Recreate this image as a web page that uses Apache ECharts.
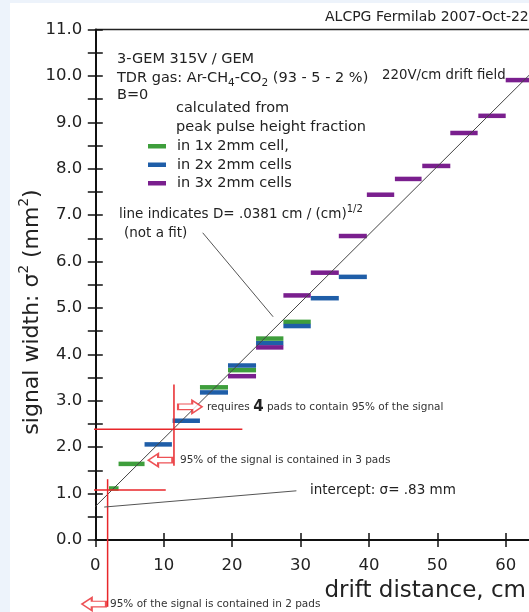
<!DOCTYPE html>
<html><head><meta charset="utf-8">
<script src="https://cdn.jsdelivr.net/npm/echarts@6/dist/echarts.min.js"></script>
<style>html,body{margin:0;padding:0;background:#fff}#c{width:529px;height:612px}</style>
</head><body><div id="c"></div>
<script>
// ---- data ----
const oneCellStart  = [2.0, 3.4, 15.3, 19.4, 23.5, 27.5];
const oneCellEnd    = [3.4, 7.2, 19.4, 23.5, 27.5, 31.5];
const oneCellSigma2 = [1.11, 1.64, 3.29, 3.66, 4.34, 4.70];

const twoCellStart  = [7.2, 11.3, 15.3, 19.4, 23.5, 27.5, 31.5, 35.6];
const twoCellEnd    = [11.2, 15.3, 19.4, 23.5, 27.5, 31.5, 35.6, 39.7];
const twoCellSigma2 = [2.06, 2.57, 3.18, 3.76, 4.24, 4.61, 5.21, 5.67];

const threeCellStart  = [19.4, 23.5, 27.5, 31.5, 35.6, 39.7, 43.8, 47.8, 51.9, 56.0, 60.0];
const threeCellEnd    = [23.5, 27.5, 31.5, 35.6, 39.7, 43.7, 47.7, 51.9, 55.9, 60.0, 64.0];
const threeCellSigma2 = [3.53, 4.15, 5.27, 5.76, 6.55, 7.44, 7.78, 8.06, 8.77, 9.14, 9.91];

const diffusionLineX = [0, 64];
const diffusionLineY = [0.72, 10.1];

// annotation guide lines (data coords)
const redLineX = [[1.8, 1.8], [-1.3, 10.3], [11.5, 11.5], [-1.4, 21.5]];
const redLineY = [[-1.44, 1.31], [1.08, 1.08], [1.6, 3.35], [2.385, 2.385]];
const leaderX = [[15.7, 26.0], [1.3, 29.4]];
const leaderY = [[6.62, 4.81], [0.71, 1.06]];
const arrowX = [13.85, 9.5, -0.2];
const arrowY = [2.87, 1.72, -1.38];
const arrowDir = ['right', 'left', 'left'];

const xTickValues = [0, 10, 20, 30, 40, 50, 60];
const yTickLabels = ['0.0','1.0','2.0','3.0','4.0','5.0','6.0','7.0','8.0','9.0','10.0','11.0'];

const seriesNames = ['in 1x 2mm cell,', 'in 2x 2mm cells', 'in 3x 2mm cells'];
const seriesColors = ['#3e9e3c', '#1f5ea8', '#7a1f8e'];

// ---- chart ----
const F = 'DejaVu Sans';
const RED = '#e8262a';
const chart = echarts.init(document.getElementById('c'));

function segSeries(name, color, xs, xe, ys) {
  return {
    type: 'custom', name: name, itemStyle: { color: color },
    xAxisIndex: 0, yAxisIndex: 0,
    data: xs.map((x, i) => [x, xe[i], ys[i]]),
    encode: { x: [0, 1], y: 2 },
    renderItem: function (params, api) {
      const p0 = api.coord([api.value(0), api.value(2)]);
      const p1 = api.coord([api.value(1), api.value(2)]);
      return { type: 'line', shape: { x1: p0[0], y1: p0[1], x2: p1[0], y2: p1[1] },
               style: { stroke: color, lineWidth: 4.5 } };
    }
  };
}
function lineSeries(xs, ys, color, width) {
  return {
    type: 'line', xAxisIndex: 0, yAxisIndex: 0, clip: false, silent: true,
    symbol: 'none', data: xs.map((x, i) => [x, ys[i]]),
    lineStyle: { color: color, width: width }, z: 5
  };
}

const yLabelSet = new Set(yTickLabels);
const xLabelSet = new Set(xTickValues);

const series = [
  segSeries(seriesNames[0], seriesColors[0], oneCellStart, oneCellEnd, oneCellSigma2),
  segSeries(seriesNames[1], seriesColors[1], twoCellStart, twoCellEnd, twoCellSigma2),
  segSeries(seriesNames[2], seriesColors[2], threeCellStart, threeCellEnd, threeCellSigma2),
  lineSeries(diffusionLineX, diffusionLineY, '#444', 1)
];
redLineX.forEach((xs, i) => series.push(lineSeries(xs, redLineY[i], RED, 1.5)));
leaderX.forEach((xs, i) => series.push(lineSeries(xs, leaderY[i], '#555', 1)));
series.push({
  type: 'scatter', xAxisIndex: 0, yAxisIndex: 0, clip: false, silent: true, z: 6,
  symbol: 'path://M0,4 L13,4 L13,0 L22,7 L13,14 L13,10 L0,10 Z',
  symbolSize: [24, 13],
  itemStyle: { color: '#fff', borderColor: RED, borderWidth: 1.6 },
  data: arrowX.map((x, i) => ({ value: [x, arrowY[i]], symbolRotate: arrowDir[i] === 'left' ? 180 : 0 }))
});

const axisCommonX = { type: 'value', min: 0, max: 70, interval: 10, splitLine: { show: false } };
const axisCommonY = { type: 'value', min: 0, max: 11, interval: 0.5, splitLine: { show: false } };

function txt(text, x, y, size, extra) {
  return Object.assign({ type: 'text', x: x, y: y, z: 100,
    style: Object.assign({ text: text, fontSize: size, fontFamily: F, fill: '#222',
      textVerticalAlign: 'middle' }, extra || {}) });
}

chart.setOption({
  backgroundColor: '#fff',
  animation: false,
  grid: { left: 95.3, top: 29.5, width: 478.8, height: 510.5, outerBoundsMode: 'none', containLabel: false },
  legend: {
    show: true, left: 148, top: 137, orient: 'vertical', padding: 0, itemGap: 0,
    itemWidth: 18, itemHeight: 4.5, icon: 'rect', selectedMode: false,
    data: seriesNames,
    textStyle: { fontFamily: F, fontSize: 14.5, color: '#222', lineHeight: 18.5, padding: [0, 0, 0, 6] }
  },
  xAxis: [
    Object.assign({}, axisCommonX, { position: 'bottom',
      axisLine: { lineStyle: { color: '#111', width: 2 } },
      axisTick: { length: 7, lineStyle: { color: '#111', width: 1.5 } },
      axisLabel: { fontFamily: F, fontSize: 16.5, color: '#222', margin: 17,
        formatter: v => xLabelSet.has(v) ? String(v) : '' } }),
    Object.assign({}, axisCommonX, { position: 'bottom',
      axisLine: { show: false },
      axisTick: { inside: true, length: 7, lineStyle: { color: '#111', width: 1.5 } },
      axisLabel: { show: false } }),
    Object.assign({}, axisCommonX, { position: 'top',
      axisLine: { lineStyle: { color: '#222', width: 1.3 } },
      axisTick: { show: false }, axisLabel: { show: false } })
  ],
  yAxis: [
    Object.assign({}, axisCommonY, { position: 'left',
      axisLine: { lineStyle: { color: '#111', width: 2 } },
      axisTick: { length: 7.5, lineStyle: { color: '#111', width: 1.5 } },
      axisLabel: { fontFamily: F, fontSize: 16.5, color: '#222', margin: 13,
        formatter: v => yLabelSet.has(v.toFixed(1)) && Number.isInteger(v) ? v.toFixed(1) : '' } }),
    Object.assign({}, axisCommonY, { position: 'left',
      axisLine: { show: false },
      axisTick: { inside: true, length: 7.5, lineStyle: { color: '#111', width: 1.5 } },
      axisLabel: { show: false } })
  ],
  graphic: [
    { type: 'rect', z: -10, shape: { x: 0, y: 0, width: 10, height: 612 }, style: { fill: '#edf3fb' } },
    { type: 'rect', z: -10, shape: { x: 0, y: 0, width: 529, height: 3 }, style: { fill: '#edf3fb' } },
    txt('ALCPG Fermilab 2007-Oct-22', 325, 17, 14),
    txt('3-GEM 315V / GEM', 117, 59, 14.5),
    txt('{n|TDR gas: Ar-CH}{s|4}{n|-CO}{s|2}{n| (93 - 5 - 2 %)}', 117, 78, 14.5, {
      rich: { n: { fontSize: 14.5, fontFamily: F, fill: '#222', lineHeight: 22 },
              s: { fontSize: 10.5, fontFamily: F, fill: '#222', lineHeight: 12, verticalAlign: 'bottom' } } }),
    txt('220V/cm drift field', 382, 76, 13.3),
    txt('B=0', 117, 95, 14.5),
    txt('calculated from', 176, 108, 14.5),
    txt('peak pulse height fraction', 176, 127, 14.5),
    txt('{n|line indicates D= .0381 cm / (cm)}{p|1/2}', 119, 214, 13.5, {
      rich: { n: { fontSize: 13.5, fontFamily: F, fill: '#222', lineHeight: 20 },
              p: { fontSize: 10, fontFamily: F, fill: '#222', lineHeight: 11, verticalAlign: 'top' } } }),
    txt('(not a fit)', 124, 233, 13.5),
    txt('{s|requires }{b|4}{s| pads to contain 95% of the signal}', 207, 407, 10.5, {
      rich: { s: { fontSize: 10.5, fontFamily: F, fill: '#333' },
              b: { fontSize: 15, fontFamily: F, fill: '#222', fontWeight: 'bold' } } }),
    txt('95% of the signal is contained in 3 pads', 180, 460, 10.5, { fill: '#333' }),
    txt('intercept: σ= .83 mm', 310, 490, 13.5),
    txt('95% of the signal is contained in 2 pads', 110, 604, 10.5, { fill: '#333' }),
    txt('drift distance, cm', 526, 591, 23, { textAlign: 'right' }),
    { type: 'text', x: 32, y: 312, rotation: Math.PI / 2, z: 100,
      style: { text: '{n|signal width: σ}{p|2}{n| (mm}{p|2}{n|)}', textAlign: 'center', textVerticalAlign: 'middle',
        rich: { n: { fontSize: 22, fontFamily: F, fill: '#222', lineHeight: 30 },
                p: { fontSize: 13.5, fontFamily: F, fill: '#222', lineHeight: 15, verticalAlign: 'top' } } } }
  ],
  series: series
});
</script></body></html>
